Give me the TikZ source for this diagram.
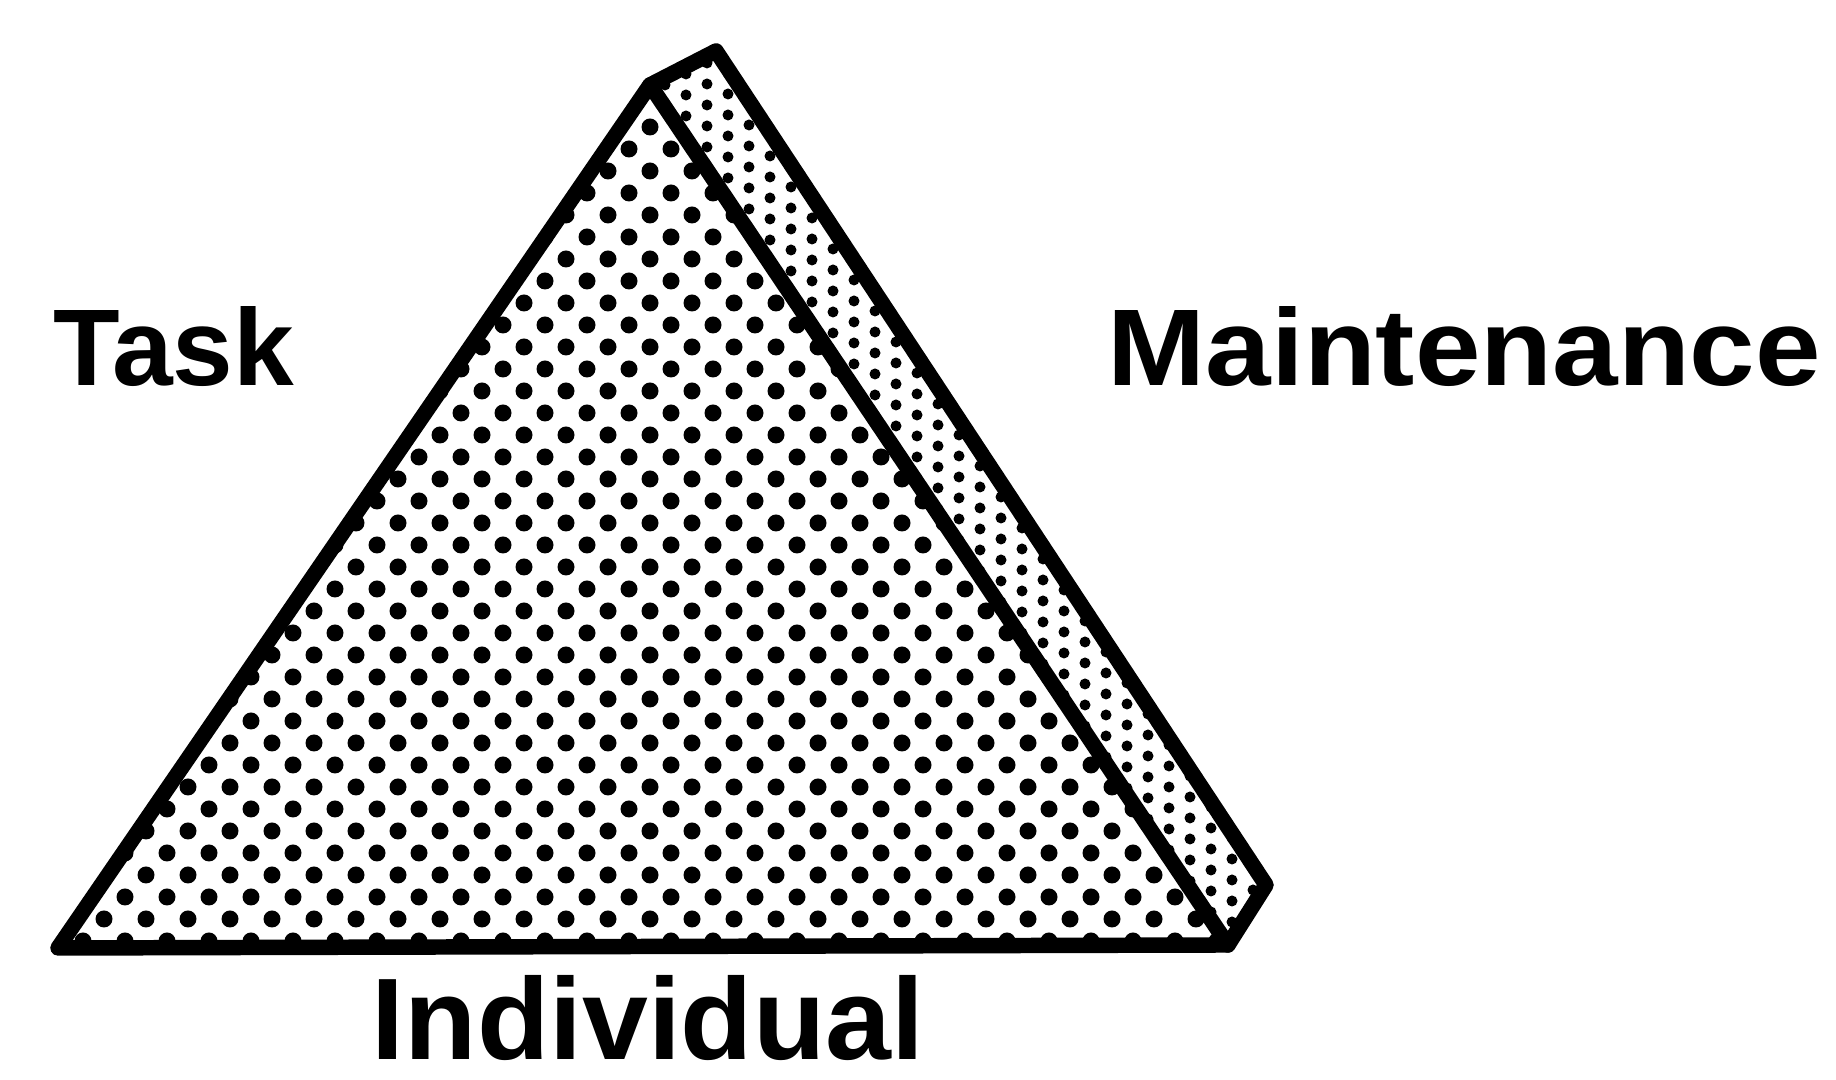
\documentclass[tikz,border=0pt]{standalone}
\usepackage{fontspec}
\setmainfont{Liberation Sans}
\usepackage{tikz}
\usetikzlibrary{positioning}
\usetikzlibrary{calc}

\tikzset{
  edge/.style={line width=4.4pt, line join=round, line cap=round},
  label/.style={font=\fontsize{31}{31}\selectfont\bfseries, inner sep=0pt},
}

\begin{document}
\begin{tikzpicture}[x=0.01cm, y=0.01cm]
\useasboundingbox (0,0) rectangle (1836,1080);

%---------------------------------------
% Corners of the triangle
%---------------------------------------
\coordinate (apex)  at (716,1029);
\coordinate (right) at (1266,195);
\coordinate (botR)  at (1228,135);
\coordinate (botL)  at (58,132);
\coordinate (split) at (650,995);

%---------------------------------------
% Big dots (Task / Individual part)
%---------------------------------------
\begin{scope}
  \clip (split) -- (botR) -- (botL) -- cycle;
  \foreach \j in {0,...,42} {
    \foreach \i in {0,...,31} {
      \fill ({-22+42*\i+21*mod(\j,2)},{1041-22*\j}) circle[radius=8.5];
    }
  }
\end{scope}

%---------------------------------------
% Small dots (Maintenance strip)
%---------------------------------------
\begin{scope}
  \clip (apex) -- (right) -- (botR) -- (split) -- cycle;
  \foreach \j in {-14,...,45} {
    \foreach \i in {0,...,31} {
      \fill ({644+21*\i},{1068-21*\j-10*\i}) circle[radius=5.5];
    }
  }
\end{scope}

% Outline and dividing line
\draw[edge] (apex) -- (right) -- (botR) -- (botL) -- (split) -- cycle;
\draw[edge] (split) -- (botR);

% Labels
\node[label, anchor=base west] (task) at (53,694) {Task};
\node[label, anchor=base west, xscale=1.08] (maint) at (1107,694) {Maintenance};
\node[label, anchor=base, xscale=1.02, font=\fontsize{33}{33}\selectfont\bfseries] (indiv) at (648,20) {Individual};

\end{tikzpicture}
\end{document}
